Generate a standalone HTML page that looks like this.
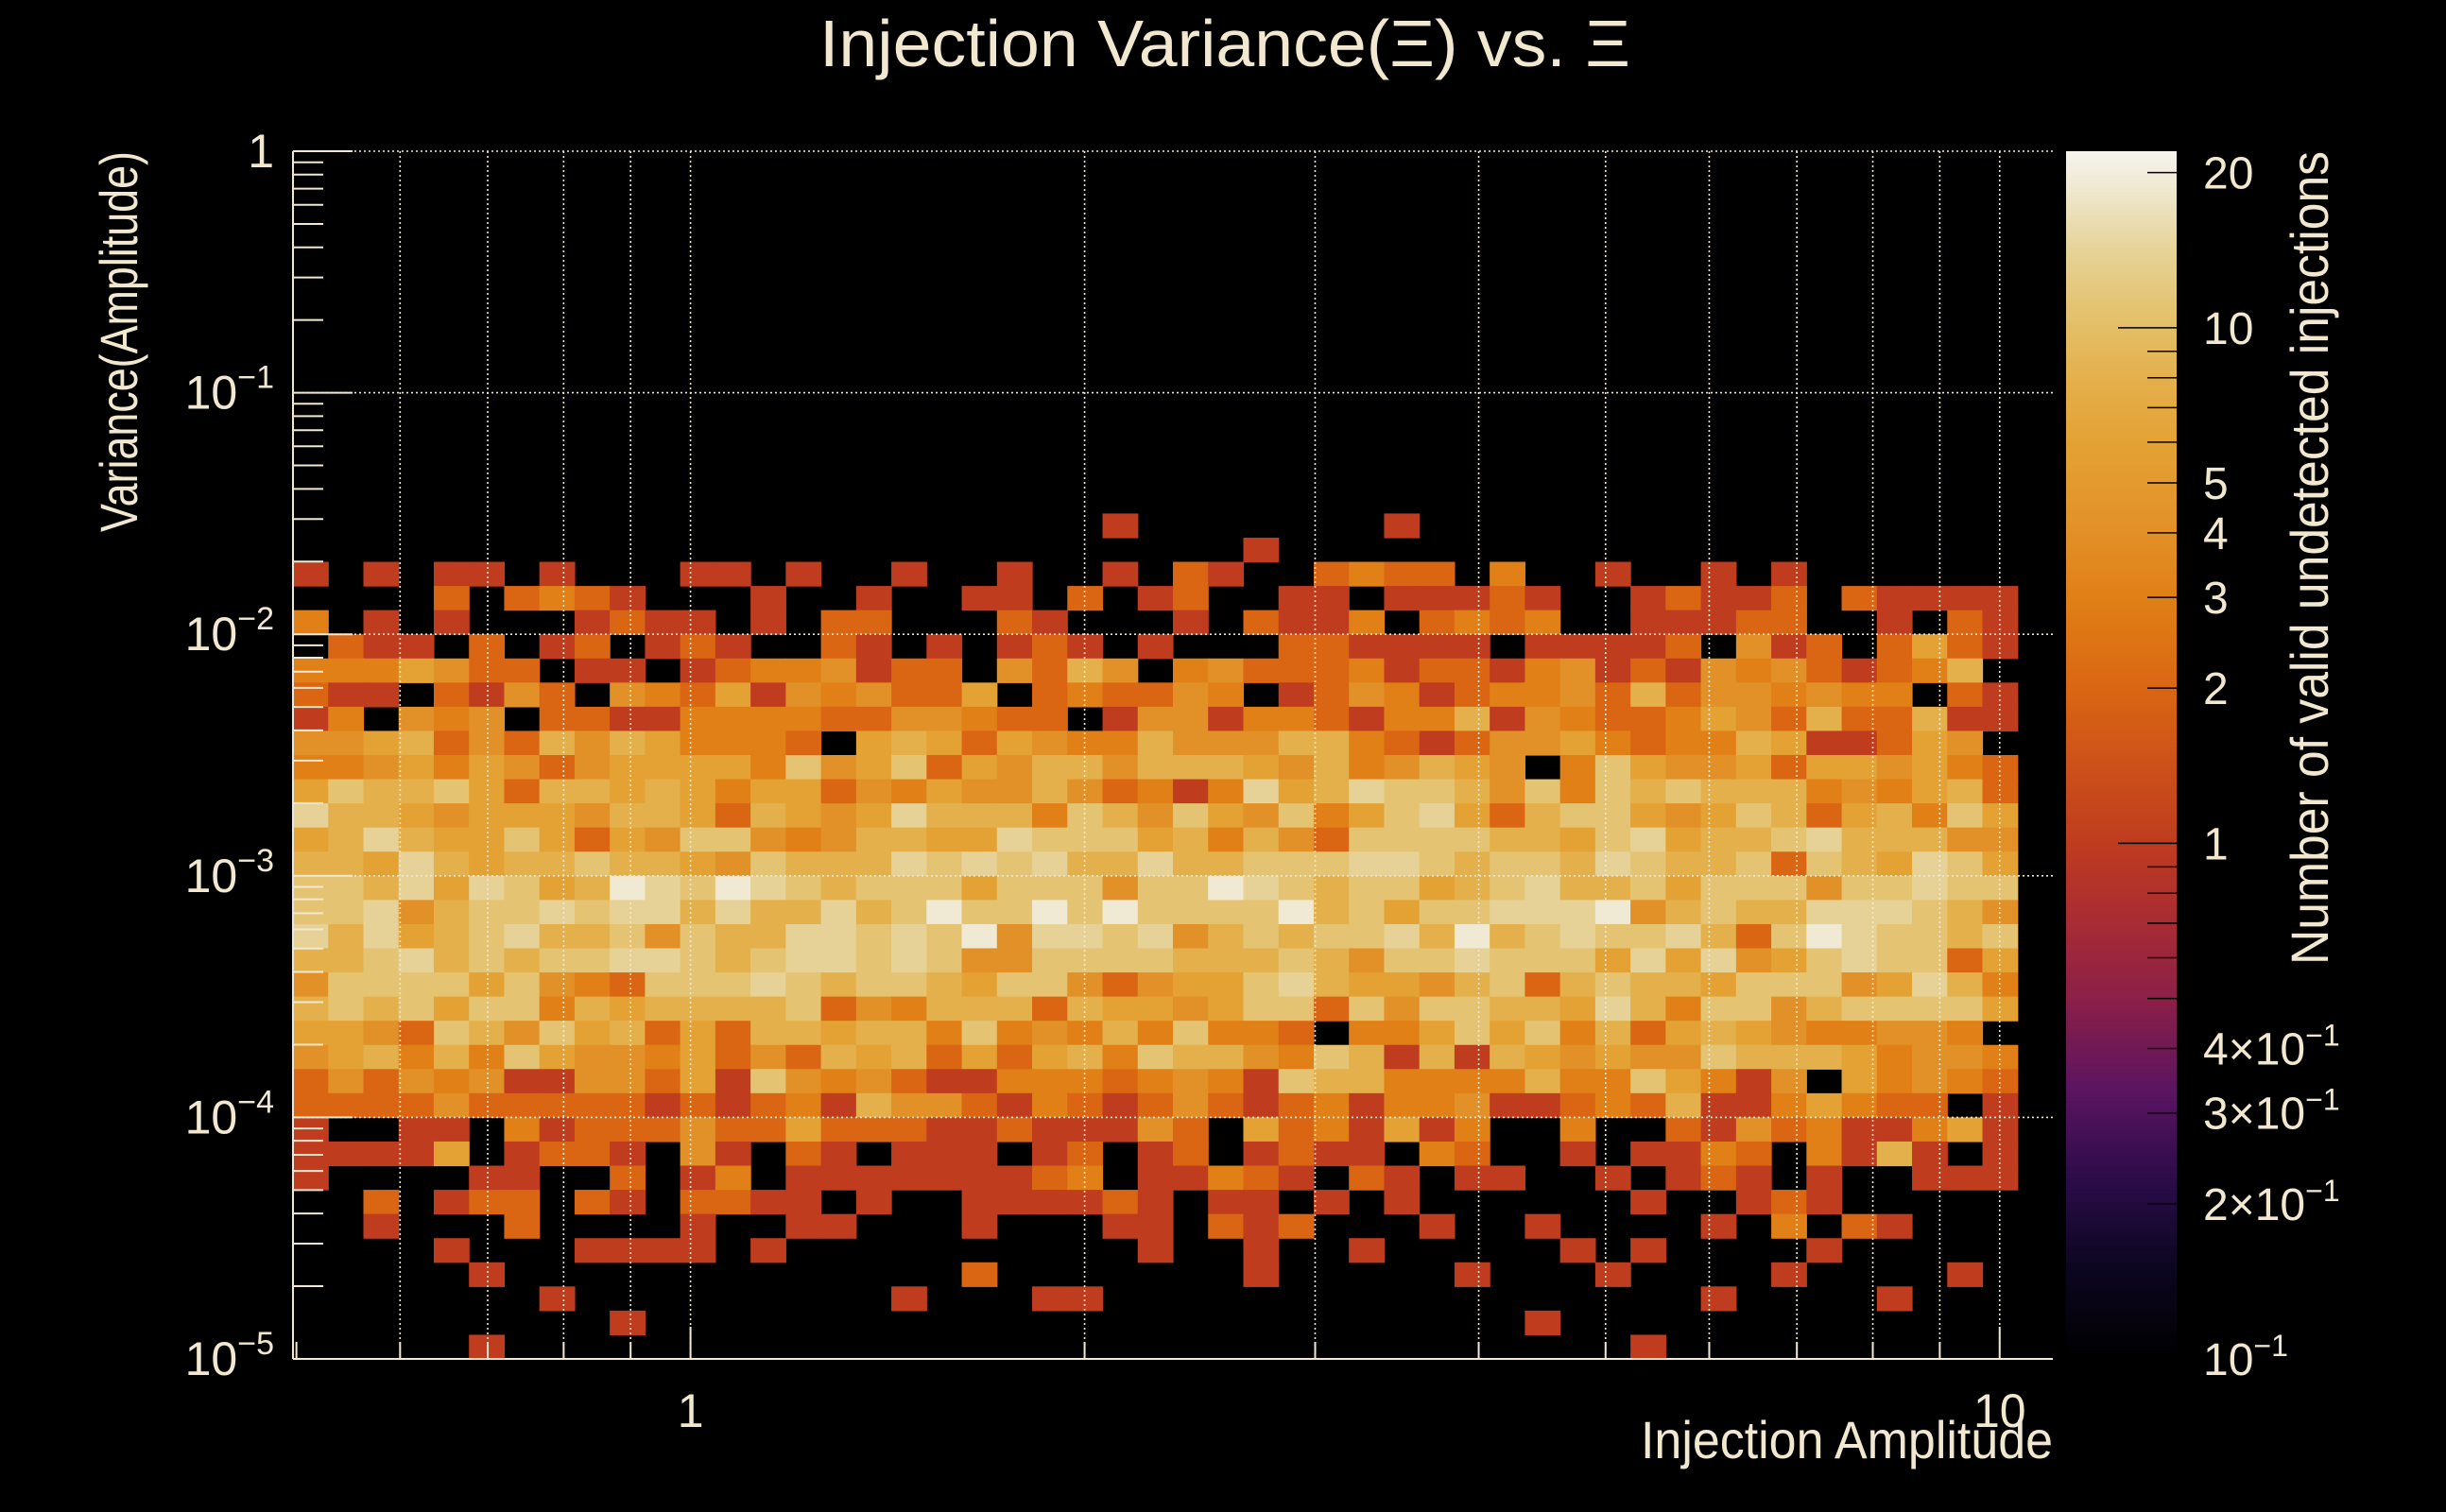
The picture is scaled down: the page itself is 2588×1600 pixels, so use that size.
<!DOCTYPE html>
<html><head><meta charset="utf-8"><title>Injection Variance vs Amplitude</title>
<style>html,body{margin:0;padding:0;background:#000;}svg{display:block;}</style>
</head><body>
<svg id="chart" xmlns="http://www.w3.org/2000/svg" width="2588" height="1600" viewBox="0 0 2588 1600" style="font-family:'Liberation Sans',sans-serif">
<rect x="0" y="0" width="2588" height="1600" fill="#000"/>
<text x="867" y="70" font-size="70" fill="#f2e8d0" textLength="858" lengthAdjust="spacingAndGlyphs">Injection Variance(Ξ) vs. Ξ</text>
<g id="cells"></g>
<g id="grid"></g>
<g id="axes"></g>
<g id="cbar"></g>
<text transform="translate(145,160) rotate(-90)" text-anchor="end" font-size="56" fill="#f2e8d0" textLength="403" lengthAdjust="spacingAndGlyphs">Variance(Amplitude)</text>
<text x="2172" y="1543" text-anchor="end" font-size="56" fill="#f2e8d0" textLength="436" lengthAdjust="spacingAndGlyphs">Injection Amplitude</text>
<text transform="translate(2463,160) rotate(-90)" text-anchor="end" font-size="56" fill="#f2e8d0" textLength="861" lengthAdjust="spacingAndGlyphs">Number of valid undetected injections</text>
</svg>
<script>
// ---- data ----
var xMin = 0.497, xMax = 10.98, nXBins = 50;
var yMin = 1e-5, yMax = 1, nYBins = 50;
var zMin = 0.1, zMax = 22;
// count per code character ('.' = empty)
var codeCounts = [0, 1, 2, 3, 4, 6, 8, 11, 14, 19];
// rows from bin 34 (top) down to bin 0; each row: bins 0-16 | 17-33 | 34-49
var rowsTopDown = [
".................".concat("......1.......1..", "................"),
".................".concat("..........1......", "................"),
"1.1.11.1...11.1..".concat("1..1..1.21..2322.", "3..1..1.1......."),
"....2.2321...1..1".concat("..11.2.12..11.111", "21..12112.21111."),
"3.1.1...1211.1.22".concat("...21...1.2113.23", "23..11122..1.21."),
".211.2.12.121..21".concat(".1.121.1...221111", ".11112.412.2521."),
"3335422.11.123341".concat("22.4264.342223122", "13412143421236.."),
"211.2142.43251434".concat("225.232243.124312", "334262443433.21."),
"13.434.2211333322".concat("44322.14413321336", "143223542622611."),
"445624264653332.5".concat("65254336444663212", "44532336511254.."),
"33453542455553745".concat("72546646665463465", "4.3754452554532."),
"57667526656535524".concat("35446423138568776", "473767666343562."),
"86654555466526545".concat("86663764754735785", "267754576256375."),
"56865575254774346".concat("65587775636427777", "665785667866644."),
"66586566766547666".concat("87878668667778876", "776876672765875."),
"77685875698798767".concat("77577747798767756", "786675777477877."),
"77846778788686686".concat("79779797777967577", "888946766888764."),
"86856786674766887".concat("87948878467677869", "678778627987767."),
"66786767788767887".concat("87447777666764778", "777585845787725."),
"47777574327778767".concat("76577424557865546", "726766577745863."),
"67675773656666724".concat("36662655457727477", "665863774677775."),
"55427647562526656".concat("637343637332.3357", "57362565433443.."),
"45636375443524265".concat("62525637664376161", "654544766653443."),
"24243411442517434".concat("21133323431766333", "363375314.53432."),
"22224222221212316".concat("44213212421231334", "1123261135322.1."),
"1..11.31222422522".concat("211211142.5231513", "..3..2142311351."),
"11115.1221.41.21.".concat("111.12.12.1211.32", "..1.1132.3161.1."),
"1....11..2.13.111".concat("111123.11321.21.1", "1..1.121.1..111."),
"..2.122.21.2211.1".concat("..111121.11.1.1..", "....1..121......"),
"..1...2....1..11.".concat("..1...11.212...1.", ".1....1.3.21...."),
"....1...1111.1...".concat(".......1..1..1...", "..1.1....1......"),
".....1...........".concat("..2.......1.....1", "...1....1....1.."),
".......1.........".concat("1...11...........", "......1....1...."),
".........1.......".concat(".................", ".1.............."),
".....1...........".concat(".................", "....1..........."),
];
var yTickLabels = [["1",""],["10","−1"],["10","−2"],["10","−3"],["10","−4"],["10","−5"]];
var yTickValues = [1, 0.1, 0.01, 1e-3, 1e-4, 1e-5];
var xTickValues = [1, 10];
var xTickLabels = ["1", "10"];
var zTickValues = [20, 10, 5, 4, 3, 2, 1, 0.4, 0.3, 0.2, 0.1];
var zTickLabels = [["20",""],["10",""],["5",""],["4",""],["3",""],["2",""],["1",""],["4×10","−1"],["3×10","−1"],["2×10","−1"],["10","−1"]];

// ---- layout ----
var PX0 = 310, PX1 = 2172, PY0 = 160, PY1 = 1438;
var CB0 = 2186, CB1 = 2303;
var TXT = "#f2e8d0";
var NS = "http://www.w3.org/2000/svg";
function xScale(v){ return PX0 + (Math.log10(v) - Math.log10(xMin)) / (Math.log10(xMax) - Math.log10(xMin)) * (PX1 - PX0); }
function yScale(v){ return PY1 - (Math.log10(v) - Math.log10(yMin)) / (Math.log10(yMax) - Math.log10(yMin)) * (PY1 - PY0); }
function zScale(v){ return PY1 - (Math.log10(v) - Math.log10(zMin)) / (Math.log10(zMax) - Math.log10(zMin)) * (PY1 - PY0); }
function xEdge(i){ return Math.pow(10, Math.log10(xMin) + i * (Math.log10(xMax) - Math.log10(xMin)) / nXBins); }
function yEdge(j){ return Math.pow(10, Math.log10(yMin) + j * (Math.log10(yMax) - Math.log10(yMin)) / nYBins); }

var stops = [
 [0.1,"#000000"],[0.15,"#0c0620"],[0.22,"#2a0c48"],[0.33,"#5a1460"],[0.5,"#8c2048"],
 [0.75,"#ad2e30"],[1,"#bf3c1f"],[2,"#da6614"],[3,"#e08016"],[4,"#e29028"],
 [6,"#e4a234"],[8,"#e4b04c"],[11,"#e4c472"],[14,"#e6d296"],[19,"#f0ead4"],[22,"#f6f4ee"]];
function hex2rgb(h){ return [parseInt(h.substr(1,2),16),parseInt(h.substr(3,2),16),parseInt(h.substr(5,2),16)]; }
function colorOf(v){
  if (v <= stops[0][0]) return stops[0][1];
  for (var k = 1; k < stops.length; k++) {
    if (v <= stops[k][0]) {
      var a = stops[k-1], b = stops[k];
      var t = (Math.log(v) - Math.log(a[0])) / (Math.log(b[0]) - Math.log(a[0]));
      var ca = hex2rgb(a[1]), cb = hex2rgb(b[1]);
      return "rgb(" + Math.round(ca[0]+(cb[0]-ca[0])*t) + "," + Math.round(ca[1]+(cb[1]-ca[1])*t) + "," + Math.round(ca[2]+(cb[2]-ca[2])*t) + ")";
    }
  }
  return stops[stops.length-1][1];
}
function mk(tag, attrs, parent){ var e = document.createElementNS(NS, tag); for (var k in attrs) e.setAttribute(k, attrs[k]); parent.appendChild(e); return e; }

// ---- cells ----
var gCells = document.getElementById("cells");
var nRows = rowsTopDown.length;
for (var r = 0; r < nRows; r++) {
  var j = nRows - 1 - r;
  var row = rowsTopDown[r];
  for (var i = 0; i < nXBins && i < row.length; i++) {
    var ch = row.charAt(i);
    if (ch === "." || ch === " ") continue;
    var v = codeCounts[parseInt(ch, 10)];
    if (!v) continue;
    var x0 = xScale(xEdge(i)), x1 = xScale(xEdge(i+1));
    var y0 = yScale(yEdge(j+1)), y1 = yScale(yEdge(j));
    var c = mk("rect", {x: x0.toFixed(2), y: y0.toFixed(2), width: (x1-x0+0.6).toFixed(2), height: (y1-y0+0.6).toFixed(2), fill: colorOf(v)}, gCells);
    
    
  }
}

// ---- grid ----
var gGrid = document.getElementById("grid");
var gridX = [0.6,0.7,0.8,0.9,1,2,3,4,5,6,7,8,9,10];
gridX.forEach(function(v){
  var l = mk("line", {x1: xScale(v), x2: xScale(v), y1: PY0, y2: PY1, stroke: TXT, "stroke-width": 1.6, "stroke-dasharray": "2,3"}, gGrid);
  
  
});
yTickValues.forEach(function(v){
  var l = mk("line", {x1: PX0, x2: PX1, y1: yScale(v), y2: yScale(v), stroke: TXT, "stroke-width": 1.6, "stroke-dasharray": "2,3"}, gGrid);
  
  
});

// ---- axes ----
var gAx = document.getElementById("axes");
var ax1 = mk("line", {x1: PX0, x2: PX0, y1: PY0, y2: PY1, stroke: TXT, "stroke-width": 2}, gAx);


var ax2 = mk("line", {x1: PX0, x2: PX1, y1: PY1, y2: PY1, stroke: TXT, "stroke-width": 2}, gAx);


for (var d = -5; d < 0; d++) {
  for (var m = 1; m <= 9; m++) {
    var v = m * Math.pow(10, d);
    var len = (m === 1) ? 63 : 32;
    var t = mk("line", {x1: PX0, x2: PX0 + len, y1: yScale(v), y2: yScale(v), stroke: TXT, "stroke-width": 2}, gAx);
    
    
  }
}
var t0 = mk("line", {x1: PX0, x2: PX0 + 63, y1: yScale(1), y2: yScale(1), stroke: TXT, "stroke-width": 2}, gAx);


yTickValues.forEach(function(v, k){
  var tx = mk("text", {x: 290, y: yScale(v) + 17, "text-anchor": "end", "font-size": 50, fill: TXT}, gAx);
  
  
  var s1 = mk("tspan", {}, tx); s1.textContent = yTickLabels[k][0];
  if (yTickLabels[k][1]) { var s2 = mk("tspan", {dy: -22, "font-size": 34}, tx); s2.textContent = yTickLabels[k][1]; }
});
[0.5,0.6,0.7,0.8,0.9,1,2,3,4,5,6,7,8,9,10].forEach(function(v){
  if (v < xMin) return;
  var len = (v === 1 || v === 10) ? 34 : 18;
  var t = mk("line", {x1: xScale(v), x2: xScale(v), y1: PY1, y2: PY1 - len, stroke: TXT, "stroke-width": 2}, gAx);
  
  
});
xTickValues.forEach(function(v, k){
  var tx = mk("text", {x: xScale(v), y: 1510, "text-anchor": "middle", "font-size": 50, fill: TXT}, gAx);
  
  
  tx.textContent = xTickLabels[k];
});

// ---- color bar ----
var gCb = document.getElementById("cbar");
var nSl = 300;
for (var s = 0; s < nSl; s++) {
  var ya = PY0 + (PY1 - PY0) * s / nSl, yb = PY0 + (PY1 - PY0) * (s + 1) / nSl;
  var vMid = Math.pow(10, Math.log10(zMax) - (s + 0.5) / nSl * (Math.log10(zMax) - Math.log10(zMin)));
  var sl = mk("rect", {x: CB0, y: ya.toFixed(2), width: CB1 - CB0, height: (yb - ya + 0.8).toFixed(2), fill: colorOf(vMid)}, gCb);
  
  
}
var zt = [0.2,0.3,0.4,0.5,0.6,0.7,0.8,0.9,1,2,3,4,5,6,7,8,9,10,20];
zt.forEach(function(v){
  var len = (v === 1 || v === 10) ? 62 : 31;
  var t = mk("line", {x1: CB1 - len, x2: CB1, y1: zScale(v), y2: zScale(v), stroke: "#000", "stroke-width": 1.5}, gCb);
  
  
});
zTickValues.forEach(function(v, k){
  var tx = mk("text", {x: 2331, y: zScale(v) + 17, "font-size": 48, fill: TXT}, gCb);
  
  
  var s1 = mk("tspan", {}, tx); s1.textContent = zTickLabels[k][0];
  if (zTickLabels[k][1]) { var s2 = mk("tspan", {dy: -20, "font-size": 32}, tx); s2.textContent = zTickLabels[k][1]; }
});
</script>
</body></html>
